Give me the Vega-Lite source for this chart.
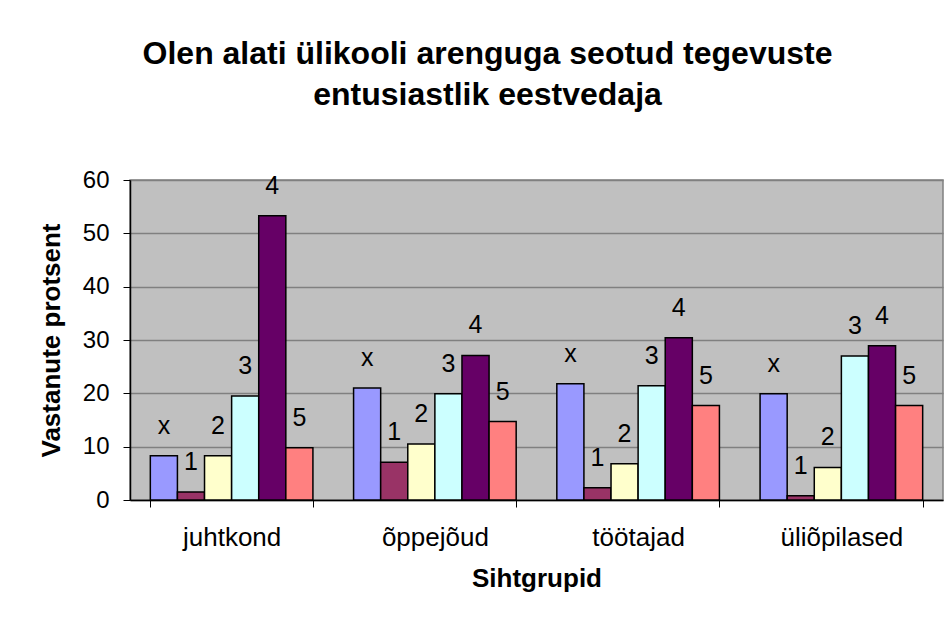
{
  "$schema": "https://vega.github.io/schema/vega-lite/v6.json",
  "width": 813,
  "height": 320,
  "autosize": {"type": "none"},
  "padding": {"left": 130, "top": 180, "right": 8, "bottom": 123},
  "background": "white",
  "title": {
    "text": ["Olen alati ülikooli arenguga seotud tegevuste", "entusiastlik eestvedaja"],
    "font": "Liberation Sans",
    "fontSize": 32,
    "fontWeight": "bold",
    "color": "black",
    "anchor": "middle",
    "frame": "group",
    "dx": -49,
    "lineHeight": 41,
    "offset": 56
  },
  "config": {
    "font": "Liberation Sans",
    "view": {"fill": "#C0C0C0", "stroke": "#808080", "strokeWidth": 1.5}
  },
  "data": {
    "values": [
      {"group": "juhtkond", "series": "x", "value": 8.3},
      {"group": "juhtkond", "series": "1", "value": 1.5},
      {"group": "juhtkond", "series": "2", "value": 8.3},
      {"group": "juhtkond", "series": "3", "value": 19.5},
      {"group": "juhtkond", "series": "4", "value": 53.3},
      {"group": "juhtkond", "series": "5", "value": 9.8},
      {"group": "õppejõud", "series": "x", "value": 21.0},
      {"group": "õppejõud", "series": "1", "value": 7.1},
      {"group": "õppejõud", "series": "2", "value": 10.5},
      {"group": "õppejõud", "series": "3", "value": 19.9},
      {"group": "õppejõud", "series": "4", "value": 27.1},
      {"group": "õppejõud", "series": "5", "value": 14.7},
      {"group": "töötajad", "series": "x", "value": 21.8},
      {"group": "töötajad", "series": "1", "value": 2.3},
      {"group": "töötajad", "series": "2", "value": 6.8},
      {"group": "töötajad", "series": "3", "value": 21.4},
      {"group": "töötajad", "series": "4", "value": 30.4},
      {"group": "töötajad", "series": "5", "value": 17.7},
      {"group": "üliõpilased", "series": "x", "value": 19.9},
      {"group": "üliõpilased", "series": "1", "value": 0.8},
      {"group": "üliõpilased", "series": "2", "value": 6.1},
      {"group": "üliõpilased", "series": "3", "value": 27.0},
      {"group": "üliõpilased", "series": "4", "value": 28.9},
      {"group": "üliõpilased", "series": "5", "value": 17.7}
    ]
  },
  "encoding": {
    "x": {
      "field": "group",
      "type": "nominal",
      "sort": ["juhtkond", "õppejõud", "töötajad", "üliõpilased"],
      "scale": {"paddingInner": 0.2, "paddingOuter": 0.1},
      "axis": {
        "title": "Sihtgrupid",
        "titleFontSize": 26,
        "titleFontWeight": "bold",
        "titleColor": "black",
        "titlePadding": 15,
        "labelFontSize": 26,
        "labelColor": "black",
        "labelAngle": 0,
        "labelPadding": 17,
        "tickBand": "extent",
        "tickColor": "black",
        "tickSize": 7,
        "domainColor": "black",
        "domainWidth": 1.5
      }
    },
    "xOffset": {
      "field": "series",
      "type": "nominal",
      "sort": ["x", "1", "2", "3", "4", "5"],
      "scale": {"paddingInner": 0, "paddingOuter": 0}
    },
    "y": {
      "field": "value",
      "type": "quantitative",
      "scale": {"domain": [0, 60], "nice": false},
      "axis": {
        "title": "Vastanute protsent",
        "titleFontSize": 26,
        "titleFontWeight": "bold",
        "titleColor": "black",
        "titlePadding": 18,
        "values": [0, 10, 20, 30, 40, 50, 60],
        "labelFontSize": 24,
        "labelColor": "black",
        "labelPadding": 14,
        "tickColor": "black",
        "tickSize": 7,
        "domainColor": "black",
        "domainWidth": 1.5,
        "grid": true,
        "gridColor": "#808080",
        "gridWidth": 1.5
      }
    }
  },
  "layer": [
    {
      "mark": {"type": "bar", "stroke": "black", "strokeWidth": 1.5},
      "encoding": {
        "color": {
          "field": "series",
          "type": "nominal",
          "scale": {
            "domain": ["x", "1", "2", "3", "4", "5"],
            "range": ["#9999FF", "#993366", "#FFFFCC", "#CCFFFF", "#660066", "#FF8080"]
          },
          "legend": null
        }
      }
    },
    {
      "mark": {"type": "text", "fontSize": 25, "color": "black", "baseline": "alphabetic", "dy": -22},
      "encoding": {
        "text": {"field": "series", "type": "nominal"}
      }
    }
  ]
}
